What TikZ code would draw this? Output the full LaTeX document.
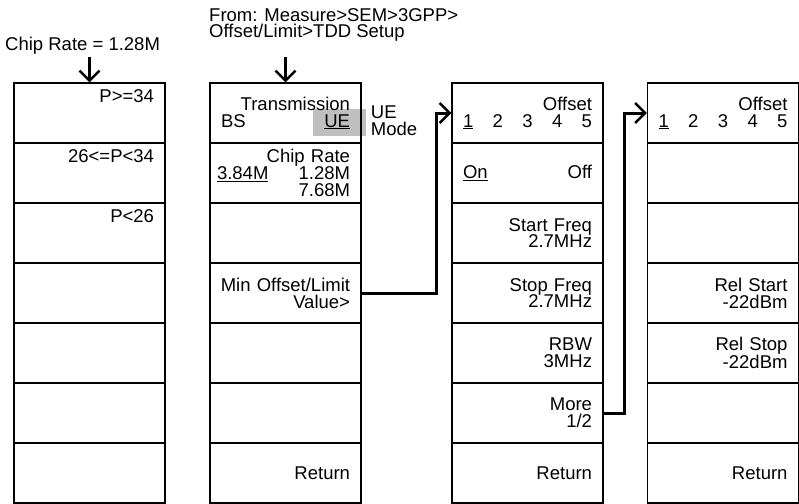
\documentclass[tikz,border=0pt]{standalone}
\usepackage{fontspec}
\setmainfont{Liberation Sans}
\usepackage{tikz}
\usetikzlibrary{arrows.meta,positioning,backgrounds}

\begin{document}
\begin{tikzpicture}[x=1pt,y=-1pt,
  every node/.style={font=\fontsize{18.5}{16.8}\selectfont,execute at begin node={\hyphenpenalty=10000\exhyphenpenalty=10000}},
  cell/.style={draw,line width=1.4pt,minimum width=151pt,minimum height=60pt,inner xsep=11pt,inner ysep=0pt,text width=129pt,align=right},
  lab/.style={inner sep=0pt,align=left},
  hl/.style={fill=black!25},
  arr/.style={-{Straight Barb[length=10pt,width=20pt,line width=2.4pt]},line width=2.4pt},
  link/.style={arr,line width=3pt,rounded corners=0pt}]
\useasboundingbox (0,0) rectangle (799,503);
% four columns of seven soft keys
\foreach \c/\x in {1/89.5,2/285.5,3/527.5,4/723}
  \foreach \r in {1,...,7}
    \node[cell] (c\c r\r) at (\x,{113+60*(\r-1)}) {};
% column 1
\node[cell] at (c1r1) {P>=34\\\mbox{}\\\mbox{}};
\node[cell] at (c1r2) {26<=P<34\\\mbox{}\\\mbox{}};
\node[cell] at (c1r3) {P<26\\\mbox{}\\\mbox{}};
% column 2
\begin{scope}[on background layer]
\fill[hl] ([xshift=-49pt,yshift=4pt]c2r1.east) rectangle ([xshift=4pt,yshift=-23pt]c2r1.east);
\end{scope}
\node[cell] at (c2r1) {Transmission\\BS\hfill\underline{UE}};
\node[cell] at (c2r2) {Chip Rate\\\hspace*{-4pt}\underline{3.84M}\hfill 1.28M\\7.68M};
\node[cell] at (c2r4) {\makebox[129pt][r]{Min Offset/Limit}\\Value>};
\node[cell] at (c2r7) {Return};
\node[lab,anchor=west] (mode) at ([xshift=9pt,yshift=-8pt]c2r1.east) {UE\\Mode};
% column 3
\node[cell] at (c3r1) {Offset\\\underline{1}\hfill 2\hfill 3\hfill 4\hfill 5};
\node[cell] at (c3r2) {\underline{On}\hfill Off};
\node[cell] at (c3r3) {Start Freq\\2.7MHz};
\node[cell] at (c3r4) {Stop Freq\\2.7MHz};
\node[cell] at (c3r5) {RBW\\3MHz};
\node[cell] at (c3r6) {More\\1/2};
\node[cell] at (c3r7) {Return};
% column 4
\node[cell] at (c4r1) {Offset\\\underline{1}\hfill 2\hfill 3\hfill 4\hfill 5};
\node[cell] at (c4r4) {Rel Start\\-22dBm};
\node[cell] at (c4r5) {Rel Stop\\-22dBm};
\node[cell] at (c4r7) {Return};
% headings
\node[lab,anchor=base west] (rate) at (5,50) {Chip Rate = 1.28M};
\node[lab,anchor=north west] (from) at (209,8) {From: Measure>SEM>3GPP>\\Offset/Limit>TDD Setup};
\coordinate (in1) at ([yshift=25pt]c1r1.north);
\coordinate (in2) at ([yshift=25pt]c2r1.north);
% connectors
\draw[arr] (in1) -- (c1r1.north);
\draw[arr] (in2) -- (c2r1.north);
\draw[link] (c2r4.east) -| ([xshift=-15pt]c3r1.west) -- (c3r1.west);
\draw[link] (c3r6.east) -| ([xshift=-22pt]c4r1.west) -- (c4r1.west);
\end{tikzpicture}
\end{document}
